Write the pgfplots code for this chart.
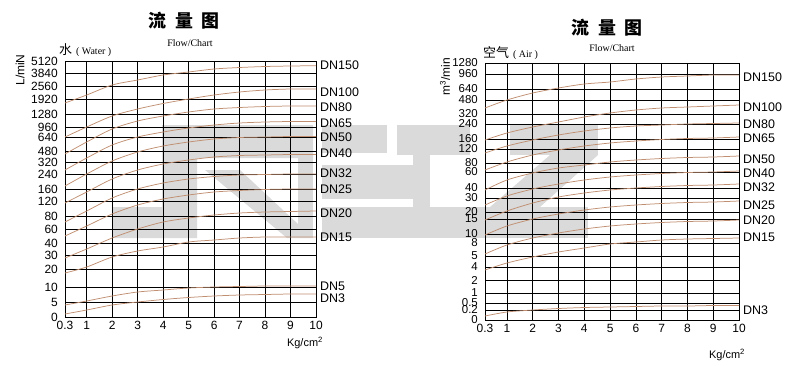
\documentclass[border=0pt]{standalone}
\usepackage{pgfplots}
\pgfplotsset{compat=1.18}
\usepackage{pgfplotstable}
\usepackage{fontspec}
\setmainfont{Liberation Sans}
\newfontfamily\seriffont{Liberation Serif}
\newfontfamily\cjk{Noto Sans CJK SC}

% Water (left). y = vertical position on the printed non-linear scale (pixel rows, 0 at bottom = 317)
\pgfplotstableread{
x    dn150 dn100 dn80  dn65  dn50  dn40  dn32  dn25  dn20  dn15  dn5   dn3
0.3  103   137   154   170   186   203   222   236   258   273   305   314
1    95    127   142   158   174   192   211   226   249   267   301   310
2    85    116   129   145   161   179   198   214   238   257   296   305
3    80    109   121   137   152   170   189   205   229   251   292   302
4    75    103.5 116   132   146   164   183   199   222   247   290   299.5
5    72    99    112   128   142   160   179   195   218   242   288   297.5
6    69    95    109   125   139   157   176.5 192   215   240   287   296
7    67.5  92    107.5 123   137.5 155.5 175   190.5 213   238   286.5 295
8    66.5  90    106.5 122   137   155   174.5 189.5 212   237   286   294.5
9    66    89    106   121.5 136.5 154.5 174   189   211.5 237   286   294
10   65.7  89    106   121.5 136.5 154.5 174   189   211   237   286   294
}\water

% Air (right)
\pgfplotstableread{
x    dn150 dn100 dn80  dn65  dn50  dn40  dn32  dn25  dn20  dn15  dn3
0.3  108   140   153   170   190   205   220   235   254   270   316
1    100   133   146   162   180   196   211   226   245   263   312
2    93    127   140   155   173   189   203   219   238   257   310
3    88    122   135   150   168   184   197   214   233   252   308.5
4    84    117   131   146   165   180   193   210   229   248   307.5
5    82    113   128   143   162   177   190   207   226   244   307
6    79    110   126   141   160   175   188   205   224   242   306.5
7    77    108   125   139.5 158.5 173.5 186.5 203.5 222.5 240   306
8    76    107   124   138.5 157.5 172.5 185.5 202.5 221.5 239   306
9    75    106   123.5 138   157   172   185   202   221   238.5 305.5
10   75    105   123   137   156   171   184   201   220   238   305.5
}\air

\definecolor{wm}{RGB}{218,218,218}
\definecolor{flowcurve}{RGB}{192,142,112}
\pgfplotsset{
  flowaxis/.style={
    scale only axis, y dir=reverse, clip=false,
    axis line style={black, line width=0.6pt},
    grid=major, major grid style={black, line width=0.45pt},
    major tick length=0pt,
    xmin=0.3, xmax=10,
    x coord trafo/.code={\pgfmathparse{ifthenelse(##1<1, 1-(1-##1)*1.2143, ##1)}},
    xtick={0.3,1,2,3,4,5,6,7,8,9,10},
    xticklabels={0.3,1,2,3,4,5,6,7,8,9,10},
    tick label style={font=\fontsize{12}{12}\selectfont, inner sep=0pt},
    yticklabel style={anchor=east, xshift=-7bp},
    xticklabel style={anchor=north, yshift=-4bp},
  },
}
\tikzset{
  dnlab/.style={anchor=west, font=\fontsize{12.5}{12.5}\selectfont, inner sep=0pt, xshift=4bp},
  crv/.style={draw=flowcurve, line width=0.75pt, smooth, tension=0.5, mark=none},
}

\begin{document}
\begin{tikzpicture}[x=1bp,y=1bp]
\useasboundingbox (0,0) rectangle (801,365);

% ---------- faint background logo (watermark) ----------
\begin{scope}[shift={(0,365)}, yscale=-1, fill=wm]
\fill (113,207)--(162,207)--(162,125)--(313,125)--(313,158)--(197,158)--(197,238)--(113,238)--cycle;
\fill (205,170)--(240,170)--(313,238)--(287,238)--cycle;
\fill (298,158) rectangle (313,238);
\fill (322,125) rectangle (387,153);
\fill (322,165) rectangle (413,199);
\fill (322,207) rectangle (413,238);
\fill (397,125) rectangle (470,155);
\fill (413,155) rectangle (430,238);
\fill (510,125) rectangle (598,155);
\fill (550,155)--(598,155)--(540,207)--(490,207)--cycle;
\fill (430,207) rectangle (588,238);
\end{scope}

% ---------- Water ----------
\begin{axis}[flowaxis, at={(65bp,48bp)}, anchor=south west,
  width=251bp, height=256bp, ymin=61, ymax=317,
  ytick={61,73,86,99,114,127,137,151,162,174,189,201,216,229,243,255,269,287,302,317},
  yticklabels={5120,3840,2560,1920,1280,960,640,480,320,240,160,120,80,60,40,30,20,10,5,0}]
\addplot[crv] table[y=dn150]{\water};
\addplot[crv] table[y=dn100]{\water};
\addplot[crv] table[y=dn80]{\water};
\addplot[crv] table[y=dn65]{\water};
\addplot[crv] table[y=dn50]{\water};
\addplot[crv] table[y=dn40]{\water};
\addplot[crv] table[y=dn32]{\water};
\addplot[crv] table[y=dn25]{\water};
\addplot[crv] table[y=dn20]{\water};
\addplot[crv] table[y=dn15]{\water};
\addplot[crv] table[y=dn5]{\water};
\addplot[crv] table[y=dn3]{\water};
\node[dnlab] at (axis cs:10,65) {DN150};
\node[dnlab] at (axis cs:10,92) {DN100};
\node[dnlab] at (axis cs:10,107) {DN80};
\node[dnlab] at (axis cs:10,123) {DN65};
\node[dnlab] at (axis cs:10,137) {DN50};
\node[dnlab] at (axis cs:10,153) {DN40};
\node[dnlab] at (axis cs:10,173) {DN32};
\node[dnlab] at (axis cs:10,189) {DN25};
\node[dnlab] at (axis cs:10,213) {DN20};
\node[dnlab] at (axis cs:10,237) {DN15};
\node[dnlab] at (axis cs:10,286) {DN5};
\node[dnlab] at (axis cs:10,298) {DN3};
\end{axis}

% ---------- Air ----------
\begin{axis}[flowaxis, at={(485bp,45bp)}, anchor=south west,
  width=254bp, height=257bp, ymin=63, ymax=320,
  yticklabel style={font=\fontsize{11.5}{11.5}\selectfont},
  ytick={63,74,89,100,114,124,139,149,163,172,188,198,212,219,234,243,256,267,280,293,303,310,320},
  yticklabels={1280,960,640,480,320,240,160,120,80,60,40,30,20,15,10,8,5,4,2,1,0.5,0.2,0}]
\addplot[crv] table[y=dn150]{\air};
\addplot[crv] table[y=dn100]{\air};
\addplot[crv] table[y=dn80]{\air};
\addplot[crv] table[y=dn65]{\air};
\addplot[crv] table[y=dn50]{\air};
\addplot[crv] table[y=dn40]{\air};
\addplot[crv] table[y=dn32]{\air};
\addplot[crv] table[y=dn25]{\air};
\addplot[crv] table[y=dn20]{\air};
\addplot[crv] table[y=dn15]{\air};
\addplot[crv] table[y=dn3]{\air};
\node[dnlab] at (axis cs:10,77) {DN150};
\node[dnlab] at (axis cs:10,107) {DN100};
\node[dnlab] at (axis cs:10,124) {DN80};
\node[dnlab] at (axis cs:10,138) {DN65};
\node[dnlab] at (axis cs:10,159) {DN50};
\node[dnlab] at (axis cs:10,173) {DN40};
\node[dnlab] at (axis cs:10,187) {DN32};
\node[dnlab] at (axis cs:10,205) {DN25};
\node[dnlab] at (axis cs:10,220) {DN20};
\node[dnlab] at (axis cs:10,237) {DN15};
\node[dnlab] at (axis cs:10,310) {DN3};
\end{axis}

% ---------- Titles and labels ----------
\node[font=\cjk\bfseries\fontsize{18}{18}\selectfont] at (184,344) {流\hspace{9bp}量\hspace{9bp}图};
\node[font=\seriffont\fontsize{10}{10}\selectfont] at (190,322) {Flow/Chart};
\node[anchor=west, inner sep=0pt] at (59,315) {{\cjk\fontsize{13}{13}\selectfont 水}\hspace{4bp}{\seriffont\fontsize{10}{10}\selectfont( Water )}};
\node[rotate=90, font=\fontsize{12}{12}\selectfont] at (20,295) {L/miN};
\node[font=\fontsize{11}{11}\selectfont] at (305,22) {Kg/cm\textsuperscript{2}};

\node[font=\cjk\bfseries\fontsize{18}{18}\selectfont] at (607,337) {流\hspace{9bp}量\hspace{9bp}图};
\node[font=\seriffont\fontsize{10}{10}\selectfont] at (612,317) {Flow/Chart};
\node[anchor=west, inner sep=0pt] at (483,312) {{\cjk\fontsize{13}{13}\selectfont 空气}\hspace{4bp}{\seriffont\fontsize{10}{10}\selectfont( Air )}};
\node[rotate=90, font=\fontsize{12}{12}\selectfont] at (445,288) {m\textsuperscript{3}/min};
\node[font=\fontsize{11}{11}\selectfont] at (727,10) {Kg/cm\textsuperscript{2}};
\end{tikzpicture}
\end{document}
